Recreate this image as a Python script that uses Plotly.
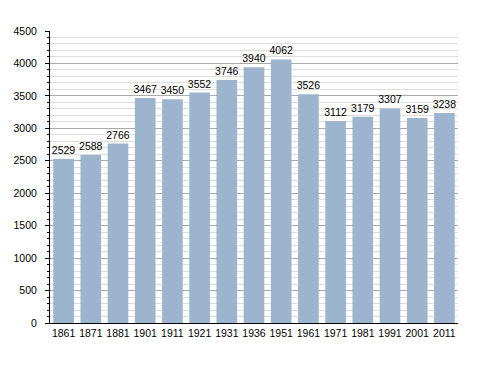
import plotly.graph_objects as go

years = ["1861", "1871", "1881", "1901", "1911", "1921", "1931", "1936",
         "1951", "1961", "1971", "1981", "1991", "2001", "2011"]
population = [2529, 2588, 2766, 3467, 3450, 3552, 3746, 3940,
              4062, 3526, 3112, 3179, 3307, 3159, 3238]

FONT = "Liberation Sans, Arial, sans-serif"

fig = go.Figure()
fig.add_trace(go.Bar(
    x=years, y=population,
    text=[str(v) for v in population],
    textposition="outside",
    constraintext="none",
    textfont=dict(family=FONT, size=10.5, color="#000"),
    marker=dict(color="#9cb4ce", line=dict(width=0)),
    cliponaxis=False,
    width=0.76,
))
fig.update_layout(
    width=480, height=365,
    margin=dict(l=42, r=30, t=23, b=50),
    plot_bgcolor="white", paper_bgcolor="white",
    showlegend=False,
    font=dict(family=FONT, size=10.5, color="#000"),
)
fig.update_yaxes(
    range=[0, 4500], dtick=500, tick0=0,
    showgrid=True, gridcolor="#aaaaaa", gridwidth=1,
    showline=True, linecolor="#000", linewidth=1,
    ticks="outside", ticklen=4, tickcolor="#000",
    ticklabelstandoff=6,
    zeroline=False, automargin=False,
    minor=dict(dtick=100, showgrid=True, gridcolor="#dddddd", gridwidth=1,
               ticks="outside", ticklen=2, tickcolor="#000"),
    fixedrange=True,
)
fig.update_xaxes(
    showline=True, linecolor="#000", linewidth=1,
    ticks="", showgrid=False, automargin=False,
    tickfont=dict(size=10.5),
)
fig.write_html("out.html")
